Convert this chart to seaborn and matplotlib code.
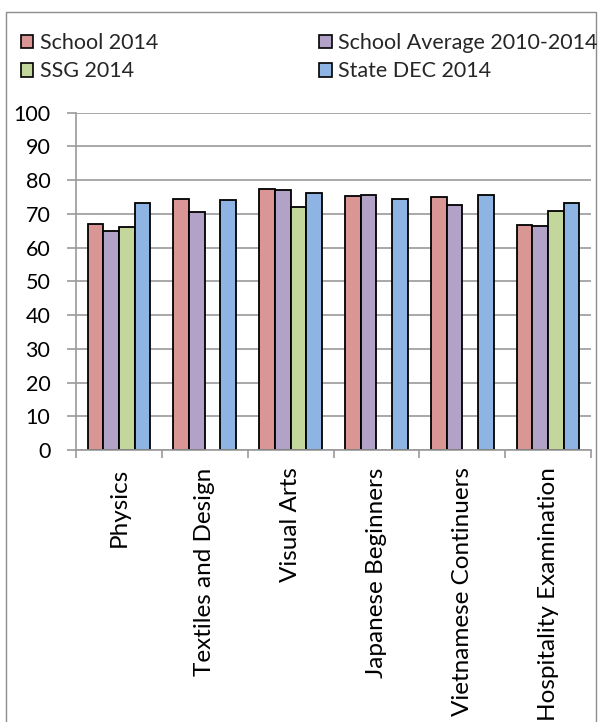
import matplotlib
matplotlib.use("Agg")
import matplotlib.pyplot as plt
from matplotlib.patches import Patch, Rectangle
import numpy as np
import pandas as pd
import seaborn as sns

subjects = ["Physics", "Textiles and Design", "Visual Arts", "Japanese Beginners",
            "Vietnamese Continuers", "Hospitality Examination"]
series = ["School 2014", "School Average 2010-2014", "SSG 2014", "State DEC 2014"]
school_2014 = [67.1, 74.4, 77.4, 75.2, 74.9, 66.7]
school_avg = [64.8, 70.6, 77.0, 75.6, 72.5, 66.5]
ssg_2014 = [66.1, np.nan, 71.9, np.nan, np.nan, 71.0]
state_dec = [73.1, 74.1, 76.2, 74.4, 75.6, 73.2]
y_ticks = [0, 10, 20, 30, 40, 50, 60, 70, 80, 90, 100]

colors = {"School 2014": "#D99694", "School Average 2010-2014": "#B3A2C7",
          "SSG 2014": "#C3D69B", "State DEC 2014": "#8EB4E3"}

df = pd.DataFrame({
    "Subject": subjects * 4,
    "Series": np.repeat(series, len(subjects)),
    "Score": school_2014 + school_avg + ssg_2014 + state_dec,
})

sns.set_theme(style="white")
plt.rcParams["font.family"] = ["Lato", "DejaVu Sans"]
FS = 15.5
FS_X = 17.5
GRID = "#9a9a9a"

fig = plt.figure(figsize=(6.01, 7.22), dpi=100)
ax = fig.add_axes([76 / 601, 1 - 450 / 722, (591 - 76) / 601, (450 - 112.7) / 722])

sns.barplot(data=df, x="Subject", y="Score", hue="Series", hue_order=series,
            order=subjects, palette=colors, width=0.73, gap=0,
            edgecolor="black", linewidth=1.3, saturation=1, legend=False, ax=ax)

ax.set_xlim(-0.5, len(subjects) - 0.5)
ax.set_ylim(0, 100)
ax.set_yticks(y_ticks)
ax.set_xlabel("")
ax.set_ylabel("")
ax.set_axisbelow(True)
ax.yaxis.grid(True, color=GRID, linewidth=1.2)
ax.xaxis.grid(False)

for side in ("top", "right"):
    ax.spines[side].set_visible(False)
for side in ("left", "bottom"):
    ax.spines[side].set_color(GRID)
    ax.spines[side].set_linewidth(1.2)

ax.tick_params(axis="y", length=6.5, width=1.2, color=GRID, pad=12,
               labelsize=FS, labelcolor="black", left=True)
ax.set_xticks(range(len(subjects)))
ax.set_xticklabels(subjects, rotation=90, va="top", ha="center")
ax.tick_params(axis="x", which="major", length=0, pad=12.5, labelsize=FS_X,
               labelcolor="black")
ax.set_xticks(np.arange(-0.5, len(subjects), 1.0), minor=True)
ax.tick_params(axis="x", which="minor", length=5.8, width=1.2, color=GRID,
               bottom=True)

# chart frame
fig.patches.append(Rectangle((5.5 / 601, -0.1), 590.5 / 601, 1.1 - 12 / 722,
                             transform=fig.transFigure, fill=False,
                             edgecolor="#8c8c8c", linewidth=1.0, clip_on=False))

legend_order = ["School 2014", "SSG 2014", "School Average 2010-2014", "State DEC 2014"]
handles = [Patch(facecolor=colors[s], edgecolor="black", linewidth=1.2, label=s)
           for s in legend_order]
fig.legend(handles=handles, ncol=2, loc="upper left",
           bbox_to_anchor=(20.5 / 601, 1 - 33 / 722), frameon=False, fontsize=FS,
           handlelength=0.6, handleheight=0.6, handletextpad=0.3,
           labelspacing=0.39, columnspacing=7.45, borderpad=0, borderaxespad=0)

fig.savefig("out.png", dpi=100)
